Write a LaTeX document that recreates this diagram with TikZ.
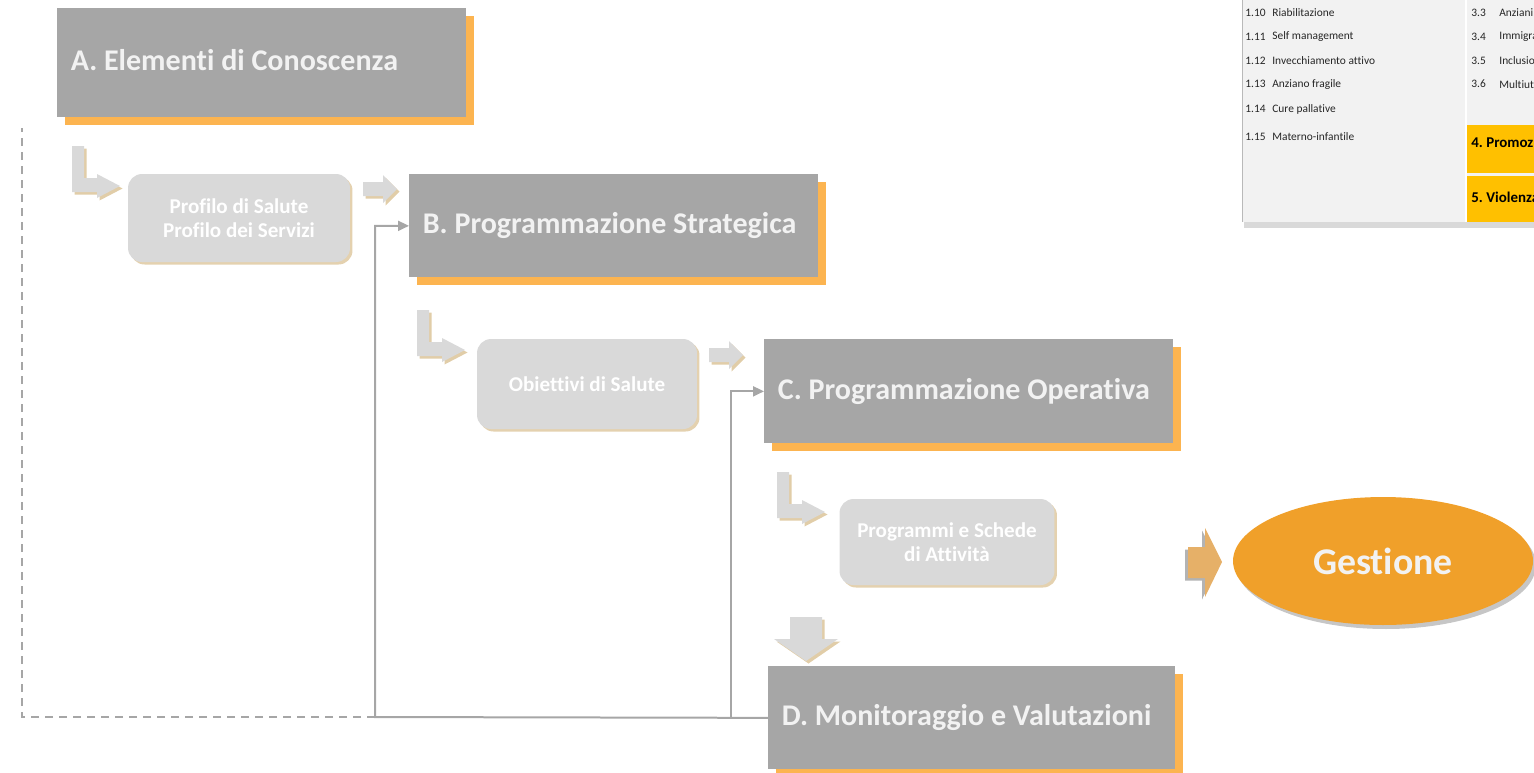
\documentclass[tikz,border=0pt]{standalone}
\usepackage{fontspec}
\setmainfont{Carlito}[Ligatures=NoCommon]
\frenchspacing
\usetikzlibrary{arrows.meta}
\usetikzlibrary{positioning}
\usetikzlibrary{shadows}
\usetikzlibrary{shapes.geometric}

\definecolor{phasegray}{RGB}{166,166,166}
\definecolor{phaseshadow}{RGB}{252,180,80}
\definecolor{phasetext}{RGB}{242,242,242}
\definecolor{stepgray}{RGB}{217,217,217}
\definecolor{stepshadow}{RGB}{205,172,110}
\definecolor{gestorange}{RGB}{240,160,42}
\definecolor{gesttan}{RGB}{230,176,104}
\definecolor{tablegray}{RGB}{242,242,242}
\definecolor{tableyellow}{RGB}{255,192,0}

\tikzset{
    phasebox/.style={
        rectangle, anchor=north west,
        minimum width=8.18cm, fill=phasegray,
        drop shadow={shadow xshift=0.16cm, shadow yshift=-0.15cm,
            fill=phaseshadow, opacity=1},
    },
    phaselabel/.style={
        rectangle, anchor=west, inner xsep=0.27cm,
        text=phasetext, font=\fontsize{17.1}{20}\selectfont\bfseries,
    },
    stepbox/.style={
        rectangle, rounded corners=0.28cm,
        align=center, fill=stepgray, text=white,
        font=\fontsize{12}{13.7}\selectfont\bfseries,
        drop shadow={shadow xshift=0.05cm, shadow yshift=-0.05cm,
            fill=stepshadow, opacity=0.55},
    },
    flowarrow/.style={
        fill=stepgray,
        drop shadow={shadow xshift=0.05cm, shadow yshift=-0.05cm,
            fill=stepshadow, opacity=0.6},
    },
    feedback/.style={draw=phasegray, line width=0.04cm},
    feedtip/.style={-{Triangle[length=0.22cm, width=0.2cm]}},
    tabletext/.style={anchor=west, inner sep=0,
        font=\fontsize{6.5}{8}\selectfont, text=black!85},
    tablehead/.style={anchor=west, inner sep=0,
        font=\fontsize{8.5}{10}\selectfont\bfseries, text=black},
}

\begin{document}
\begin{tikzpicture}[x=0.02cm, y=-0.02cm]
    \useasboundingbox (0,0) rectangle (1534,772);
    \clip (0,0) rectangle (1534,772);

    % table, top right
    \fill[tablegray, drop shadow={shadow xshift=0.04cm, shadow yshift=-0.12cm, opacity=0.3}]
        (1242,0) rectangle (1534,222);
    \draw[gray!55, thin] (1242,0) -- (1242,222);
    \fill[tableyellow] (1467,125) rectangle (1534,173);
    \fill[tableyellow] (1467,176) rectangle (1534,222);
    \draw[white, line width=0.03cm] (1466,0) -- (1466,222);

    \foreach \num/\txt [count=\i] in {1.10/Riabilitazione, 1.11/Self management,
        1.12/Invecchiamento attivo, 1.13/Anziano fragile, 1.14/Cure pallative,
        1.15/Materno-infantile} {
        \pgfmathsetmacro{\rowy}{\i<5 ? 13+(\i-1)*23.7 : (\i==5 ? 109 : 137)}
        \node (num\i) at (1245,\rowy) [tabletext] {\num};
        \node (lbl\i) at (1272,\rowy) [tabletext] {\txt};
    }
    \foreach \num/\txt [count=\i] in {3.3/Anziani, 3.4/Immigra, 3.5/Inclusio, 3.6/Multiut} {
        \node (rnum\i) at (1471,{13+(\i-1)*23.7}) [tabletext] {\num};
        \node (rlbl\i) at (1499,{13+(\i-1)*23.7}) [tabletext] {\txt};
    }
    \node (promoz) at (1471,143) [tablehead] {4. Promoz};
    \node (violenza) at (1471,197) [tablehead] {5. Violenza};

    % phases
    \node (phaseA) at (57,8) [phasebox, minimum height=2.18cm] {};
    \node (phaseB) at (409,174) [phasebox, minimum height=2.06cm] {};
    \node (phaseC) at (764,339) [phasebox, minimum height=2.08cm] {};
    \node (phaseD) at (768,666) [phasebox, minimum height=2.06cm, minimum width=8.14cm] {};

    \node (labelA) at ([yshift=0.05cm]phaseA.west) [phaselabel] {A. Elementi di Conoscenza};
    \node (labelB) at (phaseB.west) [phaselabel] {B. Programmazione Strategica};
    \node (labelC) at (phaseC.west) [phaselabel] {C. Programmazione Operativa};
    \node (labelD) at (phaseD.west) [phaselabel] {D. Monitoraggio e Valutazioni};

    % steps
    \node (profilo) at (239,218) [stepbox, minimum width=4.44cm, minimum height=1.76cm]
        {Profilo di Salute\\Profilo dei Servizi};
    \node (obiettivi) at (587,384) [stepbox, minimum width=4.4cm, minimum height=1.8cm]
        {Obiettivi di Salute};
    \node (programmi) at (947,542) [stepbox, minimum width=4.3cm, minimum height=1.72cm]
        {Programmi e Schede\\di Attività};

    % block arrows
    \foreach \ox/\oy in {72/146, 417/310, 777/472} {
        \fill[flowarrow] (\ox,\oy) -- ++(12,0) -- ++(0,32) -- ++(13,0) -- ++(0,-4)
            -- ++(23,12) -- ++(-23,12) -- ++(0,-6) -- ++(-25,0) -- cycle;
    }
    \foreach \ox/\oy in {363/175, 709/341} {
        \fill[flowarrow] (\ox,{\oy+7}) -- ++(20,0) -- ++(0,-7) -- ++(14,14)
            -- ++(-14,14) -- ++(0,-7) -- ++(-20,0) -- cycle;
    }
    \fill[flowarrow] (790,617) -- (822,617) -- (822,639) -- (838,639)
        -- (806,661) -- (774,639) -- (790,639) -- cycle;

    % gestione
    \fill[gesttan, drop shadow={shadow xshift=-0.06cm, shadow yshift=-0.05cm, opacity=0.6}]
        (1188,547) -- (1205,547) -- (1205,528) -- (1222,562) -- (1205,597)
        -- (1205,578) -- (1188,578) -- cycle;
    \node (gestione) at (1383,561) [
        ellipse, minimum width=6.0cm, minimum height=2.56cm, inner sep=0,
        fill=gestorange, text=phasetext,
        font=\fontsize{21.5}{24}\selectfont\bfseries,
        drop shadow={shadow xshift=0.06cm, shadow yshift=-0.08cm, opacity=0.45},
    ] {Gestione};

    % feedback loops
    \coordinate (loopB) at (375,717);
    \coordinate (loopC) at (731,717);
    \coordinate (loopA) at (22,128);
    \draw[feedback, dash pattern=on 0.16cm off 0.12cm] (loopB) -| (loopA);
    \draw[feedback, feedtip] (phaseD.west) -- (loopB) |- (phaseB.west);
    \draw[feedback, feedtip] (loopC) |- (phaseC.west);
\end{tikzpicture}
\end{document}
